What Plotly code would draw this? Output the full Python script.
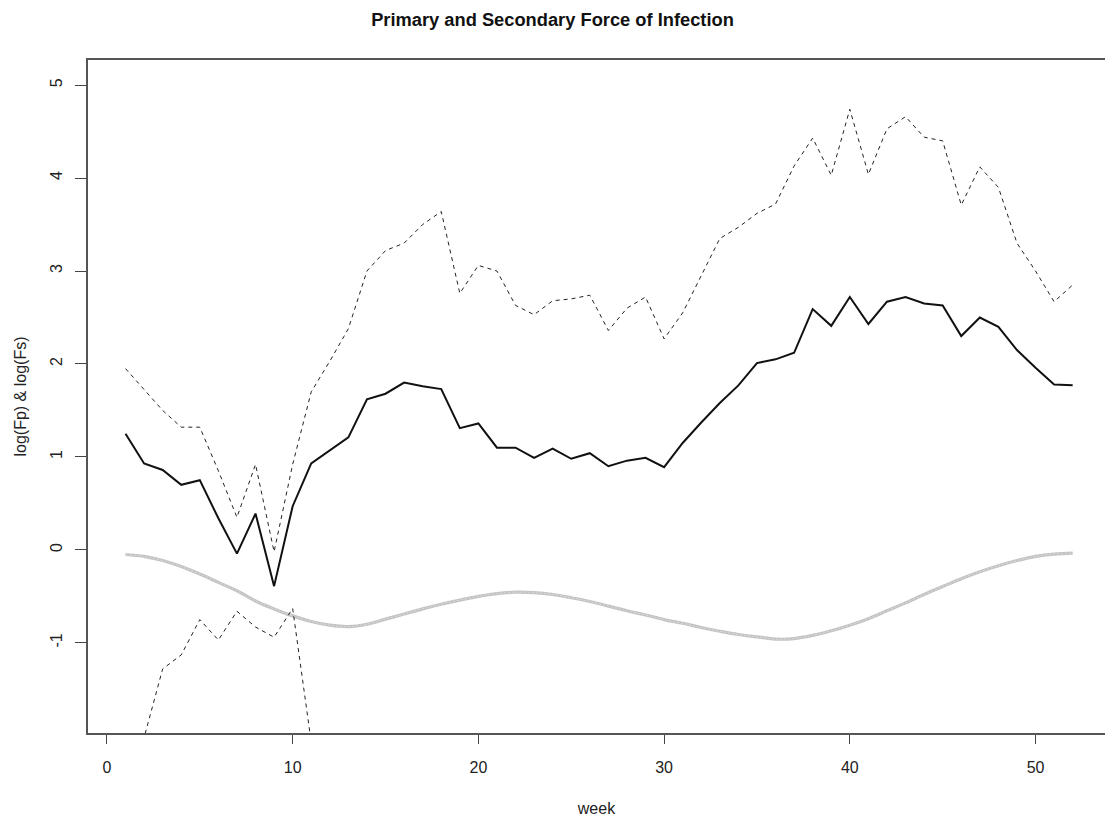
import plotly.graph_objects as go

weeks = list(range(1, 53))

log_fp = [1.25, 0.93, 0.86, 0.70, 0.75, 0.34, -0.04, 0.39, -0.39, 0.47,
          0.93, 1.07, 1.21, 1.62, 1.68, 1.80, 1.76, 1.73, 1.31, 1.36,
          1.10, 1.10, 0.99, 1.09, 0.98, 1.04, 0.90, 0.96, 0.99, 0.89,
          1.15, 1.37, 1.58, 1.77, 2.01, 2.05, 2.12, 2.59, 2.41, 2.72,
          2.43, 2.67, 2.72, 2.65, 2.63, 2.30, 2.50, 2.40, 2.15, 1.96,
          1.78, 1.77]

log_fp_upper = [1.95, 1.72, 1.50, 1.32, 1.32, 0.85, 0.35, 0.92, -0.02, 0.92,
                1.70, 2.03, 2.38, 3.00, 3.22, 3.30, 3.50, 3.64, 2.76, 3.06,
                3.00, 2.63, 2.53, 2.68, 2.70, 2.74, 2.36, 2.60, 2.72, 2.27,
                2.55, 2.95, 3.35, 3.47, 3.62, 3.72, 4.13, 4.43, 4.03, 4.74,
                4.04, 4.53, 4.66, 4.44, 4.40, 3.71, 4.12, 3.90, 3.30, 3.00,
                2.67, 2.85]

log_fp_lower = [-2.90, -2.02, -1.28, -1.13, -0.75, -0.97, -0.66, -0.83, -0.94, -0.63,
                -2.07, -2.60, -2.70, -2.40, -2.50, -2.30, -2.45, -2.60, -2.90, -2.70,
                -2.80, -3.00, -3.10, -2.90, -3.00, -2.90, -3.20, -3.00, -2.90, -3.30,
                -3.10, -2.80, -2.50, -2.40, -2.20, -2.30, -2.40, -2.20, -2.40, -2.30,
                -2.50, -2.30, -2.20, -2.30, -2.40, -2.60, -2.50, -2.60, -2.70, -2.80,
                -2.90, -2.90]

log_fs = [-0.05, -0.07, -0.115, -0.18, -0.26, -0.35, -0.44, -0.55, -0.635, -0.71,
          -0.77, -0.81, -0.825, -0.80, -0.745, -0.69, -0.635, -0.585, -0.54, -0.50,
          -0.47, -0.455, -0.46, -0.48, -0.515, -0.555, -0.605, -0.655, -0.70, -0.75,
          -0.79, -0.835, -0.875, -0.91, -0.935, -0.96, -0.955, -0.92, -0.87, -0.81,
          -0.74, -0.655, -0.57, -0.48, -0.395, -0.31, -0.235, -0.17, -0.115, -0.07,
          -0.045, -0.035]

x_ticks = [0, 10, 20, 30, 40, 50]
y_ticks = [-1, 0, 1, 2, 3, 4, 5]

FONT = "Liberation Sans, Arial, Helvetica, sans-serif"

fig = go.Figure()

fig.add_trace(go.Scatter(x=weeks, y=log_fs, mode="lines", line_shape="spline",
                         line=dict(color="#c4c4c4", width=3.2), hoverinfo="skip"))
fig.add_trace(go.Scatter(x=weeks, y=log_fs, mode="lines", line_shape="spline",
                         line=dict(color="#dadada", width=1, dash="2px,2px"), hoverinfo="skip"))
fig.add_trace(go.Scatter(x=weeks, y=log_fp_upper, mode="lines",
                         line=dict(color="#222222", width=1, dash="4px,4px")))
fig.add_trace(go.Scatter(x=weeks, y=log_fp_lower, mode="lines",
                         line=dict(color="#222222", width=1, dash="4px,4px")))
fig.add_trace(go.Scatter(x=weeks, y=log_fp, mode="lines",
                         line=dict(color="#111111", width=2)))

fig.update_layout(
    width=1105, height=820,
    margin=dict(l=88, r=0, t=60, b=87),
    paper_bgcolor="white", plot_bgcolor="white",
    showlegend=False,
    font=dict(family=FONT, size=16, color="#222222"),
    title=dict(text="<b>Primary and Secondary Force of Infection</b>",
               x=0.5, xanchor="center", y=0.9756, yanchor="middle",
               font=dict(family=FONT, size=18.3, color="#111111")),
)

fig.update_xaxes(
    range=[-1.02, 53.74], tickmode="array", tickvals=x_ticks,
    ticks="outside", ticklen=9, tickwidth=1, tickcolor="#444444",
    ticklabelstandoff=10,
    showgrid=False, zeroline=False,
    showline=True, linecolor="#555555", linewidth=1.5, mirror=True,
    title=dict(text="week", standoff=28, font=dict(size=16)),
    tickfont=dict(size=16),
)
fig.update_yaxes(
    range=[-1.97, 5.27], tickmode="array", tickvals=y_ticks,
    ticktext=[str(v) for v in y_ticks], tickangle=-90,
    ticks="outside", ticklen=11, tickwidth=1, tickcolor="#444444",
    ticklabelstandoff=7,
    showgrid=False, zeroline=False,
    showline=True, linecolor="#555555", linewidth=1.5, mirror=False,
    title=dict(text="log(Fp) & log(Fs)", standoff=17, font=dict(size=16)),
    tickfont=dict(size=16),
)

fig.write_html("out.html")
